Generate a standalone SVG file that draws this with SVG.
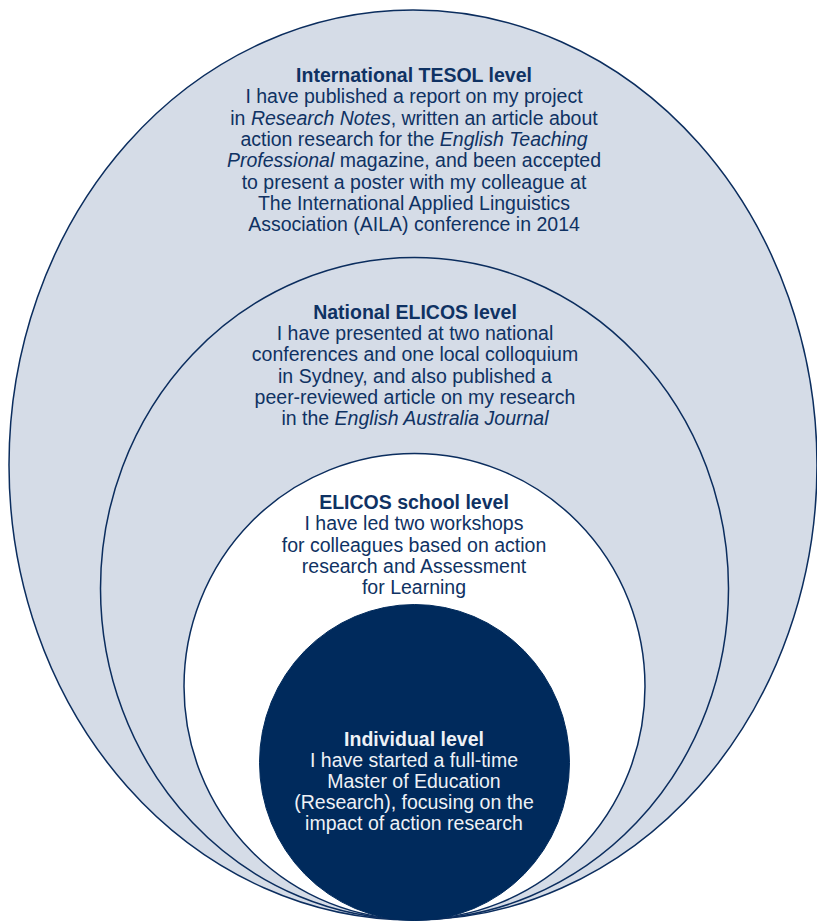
<svg xmlns="http://www.w3.org/2000/svg" width="817" height="921" viewBox="0 0 817 921">
<style>
.ring{fill:#d5dce7;stroke:#0b2d5e;stroke-width:1.5}
.white{fill:#ffffff;stroke:#0b2d5e;stroke-width:1.5}
.core{fill:#002a5c;stroke:#002a5c;stroke-width:1}
text{font-family:"Liberation Sans",Arial,sans-serif;font-size:19.5px;text-anchor:middle;fill:#0f3263}
.t{font-weight:bold}
.w{fill:#eef1f6}
</style>
<g id="international">
<ellipse class="ring" cx="413" cy="465" rx="404" ry="455"/>
<text x="414" y="82" class="t">International TESOL level</text>
<text x="414" y="103">I have published a report on my project</text>
<text x="414" y="124.5">in <tspan font-style="italic">Research Notes</tspan>, written an article about</text>
<text x="414" y="146">action research for the <tspan font-style="italic">English Teaching</tspan></text>
<text x="414" y="167"><tspan font-style="italic">Professional</tspan> magazine, and been accepted</text>
<text x="414" y="188.5">to present a poster with my colleague at</text>
<text x="414" y="210">The International Applied Linguistics</text>
<text x="414" y="231">Association (AILA) conference in 2014</text>
</g>
<g id="national">
<ellipse class="ring" cx="414.5" cy="588.5" rx="314" ry="331"/>
<text x="415" y="318.5" class="t">National ELICOS level</text>
<text x="415" y="339.5">I have presented at two national</text>
<text x="415" y="361">conferences and one local colloquium</text>
<text x="415" y="382.5">in Sydney, and also published a</text>
<text x="415" y="403.5">peer-reviewed article on my research</text>
<text x="415" y="425">in the <tspan font-style="italic">English Australia Journal</tspan></text>
</g>
<g id="school">
<ellipse class="white" cx="414.5" cy="686.5" rx="230.5" ry="233"/>
<text x="414" y="508.5" class="t">ELICOS school level</text>
<text x="414" y="530">I have led two workshops</text>
<text x="414" y="551.5">for colleagues based on action</text>
<text x="414" y="573">research and Assessment</text>
<text x="414" y="594">for Learning</text>
</g>
<g id="individual">
<ellipse class="core" cx="414.5" cy="762.5" rx="155" ry="158"/>
<text x="414" y="746" class="t w">Individual level</text>
<text x="414" y="767" class="w">I have started a full-time</text>
<text x="414" y="788" class="w">Master of Education</text>
<text x="414" y="808.5" class="w">(Research), focusing on the</text>
<text x="414" y="829.5" class="w">impact of action research</text>
</g>
<g id="connectors"></g>
</svg>
